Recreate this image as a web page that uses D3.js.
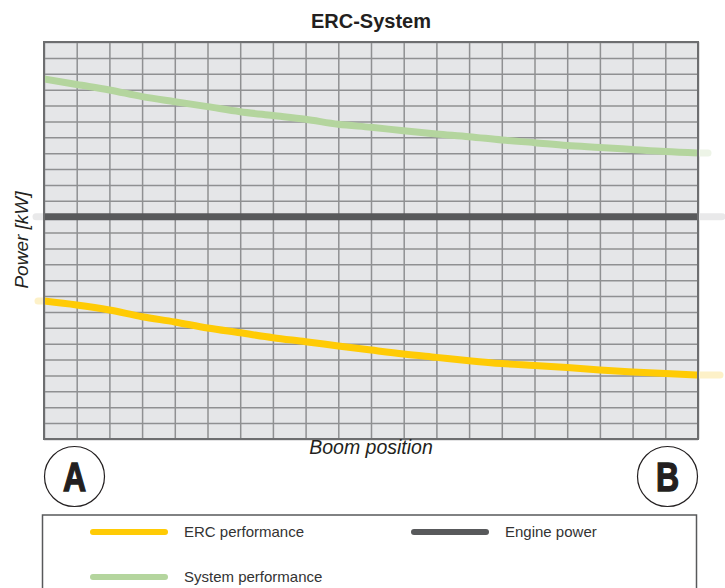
<!DOCTYPE html>
<html>
<head>
<meta charset="utf-8">
<script src="https://cdn.jsdelivr.net/npm/d3@7"></script>
<style>
  body { margin: 0; background: #fff; }
  text { font-family: "Liberation Sans", Arial, sans-serif; }
</style>
</head>
<body>
<svg width="725" height="588"></svg>
<script>
// boom position steps (grid columns) and power values (grid rows)
let positions = d3.range(0, 21);
let ercPerformance = [8.69, 8.44, 8.12, 7.70, 7.37, 6.99, 6.69, 6.38, 6.13, 5.86, 5.60,
  5.35, 5.14, 4.93, 4.75, 4.63, 4.50, 4.35, 4.22, 4.12, 4.03];
let systemPerformance = [22.67, 22.32, 21.98, 21.56, 21.24, 20.93, 20.61, 20.37, 20.13, 19.82, 19.63,
  19.41, 19.21, 19.04, 18.83, 18.66, 18.48, 18.36, 18.23, 18.10, 18.01];
let enginePower = positions.map(() => 14);
let legendLabels = ['ERC performance', 'Engine power', 'System performance'];

let margin = {left: 44, right: 27, top: 42, bottom: 149};
let width = 725, height = 588;
let plotW = width - margin.left - margin.right;
let plotH = height - margin.top - margin.bottom;

let x = d3.scaleLinear().domain([0, 20]).range([margin.left, margin.left + plotW]);
let y = d3.scaleLinear().domain([0, 25]).range([margin.top + plotH, margin.top]);

let svg = d3.select('svg');

svg.append('defs').append('clipPath').attr('id', 'plotclip')
  .append('rect')
    .attr('x', margin.left).attr('y', margin.top)
    .attr('width', plotW).attr('height', plotH);

svg.append('rect')
  .attr('x', margin.left).attr('y', margin.top)
  .attr('width', plotW).attr('height', plotH)
  .attr('fill', '#e5e6e8');

// grid
let gx = svg.append('g')
  .attr('transform', `translate(0,${margin.top + plotH})`)
  .call(d3.axisBottom(x).ticks(20).tickSize(-plotH).tickFormat(''));
let gy = svg.append('g')
  .attr('transform', `translate(${margin.left},0)`)
  .call(d3.axisLeft(y).ticks(25).tickSize(-plotW).tickFormat(''));
[gx, gy].forEach(g => {
  g.select('.domain').remove();
  g.selectAll('line').attr('stroke', '#8f9092').attr('stroke-width', 1.5);
});

let series = [
  {name: 'erc', values: ercPerformance, color: '#ffcb05', fade: '#fdf1c8', left: 6, right: 22},
  {name: 'engine', values: enginePower, color: '#58595b', fade: '#e9e9ea', left: 8, right: 24},
  {name: 'system', values: systemPerformance, color: '#b4d59e', fade: '#edf4e7', left: 0, right: 10}
];

let line = d3.line()
  .x((d, i) => x(positions[i]))
  .y(d => y(d))
  .curve(d3.curveMonotoneX);

// faded run-out beyond the plot frame
series.forEach(s => {
  let v = s.values;
  if (s.left) {
    svg.append('line')
      .attr('x1', x(0) - s.left).attr('x2', x(0))
      .attr('y1', y(v[0])).attr('y2', y(v[0]))
      .attr('stroke', s.fade).attr('stroke-width', 7).attr('stroke-linecap', 'round');
  }
  svg.append('line')
    .attr('x1', x(20)).attr('x2', x(20) + s.right)
    .attr('y1', y(v[v.length - 1])).attr('y2', y(v[v.length - 1]))
    .attr('stroke', s.fade).attr('stroke-width', 7).attr('stroke-linecap', 'round');
});

svg.append('g').attr('clip-path', 'url(#plotclip)')
  .selectAll('path')
  .data(series)
  .enter()
    .append('path')
    .attr('d', d => line(d.values))
    .attr('fill', 'none')
    .attr('stroke', d => d.color)
    .attr('stroke-width', 7);

// frame
svg.append('rect')
  .attr('x', margin.left).attr('y', margin.top)
  .attr('width', plotW).attr('height', plotH)
  .attr('fill', 'none')
  .attr('stroke', '#6d6e70').attr('stroke-width', 2);

// title and axis labels
svg.append('text')
  .attr('x', margin.left + plotW / 2).attr('y', 28)
  .attr('text-anchor', 'middle')
  .attr('font-size', 20).attr('font-weight', 'bold')
  .attr('fill', '#231f20')
  .text('ERC-System');

svg.append('text')
  .attr('transform', `translate(28,${240}) rotate(-90)`)
  .attr('text-anchor', 'middle')
  .attr('font-size', 19).attr('font-style', 'italic')
  .attr('fill', '#231f20')
  .text('Power [kW]');

svg.append('text')
  .attr('x', margin.left + plotW / 2).attr('y', 454)
  .attr('text-anchor', 'middle')
  .attr('font-size', 19.5).attr('font-style', 'italic')
  .attr('fill', '#231f20')
  .text('Boom position');

// A / B markers
[{label: 'A', cx: x(0) + 30.5}, {label: 'B', cx: x(20) - 30.5}].forEach(m => {
  svg.append('circle')
    .attr('cx', m.cx).attr('cy', 476.5).attr('r', 30)
    .attr('fill', 'none').attr('stroke', '#231f20').attr('stroke-width', 1.2);
  svg.append('text')
    .attr('transform', `translate(${m.cx},491) scale(0.8,1)`)
    .attr('text-anchor', 'middle')
    .attr('font-size', 40).attr('font-weight', 'bold')
    .attr('fill', '#231f20')
    .attr('stroke', '#231f20').attr('stroke-width', 1.4)
    .text(m.label);
});

// legend
svg.append('rect')
  .attr('x', 42.5).attr('y', 515)
  .attr('width', 654).attr('height', 90)
  .attr('fill', 'none').attr('stroke', '#58595b').attr('stroke-width', 1.5);

let legendItems = [
  {label: legendLabels[0], color: series[0].color, lx: 93, ly: 532},
  {label: legendLabels[1], color: series[1].color, lx: 414, ly: 532},
  {label: legendLabels[2], color: series[2].color, lx: 93, ly: 577}
];
legendItems.forEach(d => {
  svg.append('line')
    .attr('x1', d.lx).attr('x2', d.lx + 72)
    .attr('y1', d.ly).attr('y2', d.ly)
    .attr('stroke', d.color).attr('stroke-width', 6).attr('stroke-linecap', 'round');
  svg.append('text')
    .attr('x', d.lx + 91).attr('y', d.ly + 5)
    .attr('font-size', 15).attr('fill', '#333')
    .text(d.label);
});
</script>
</body>
</html>
